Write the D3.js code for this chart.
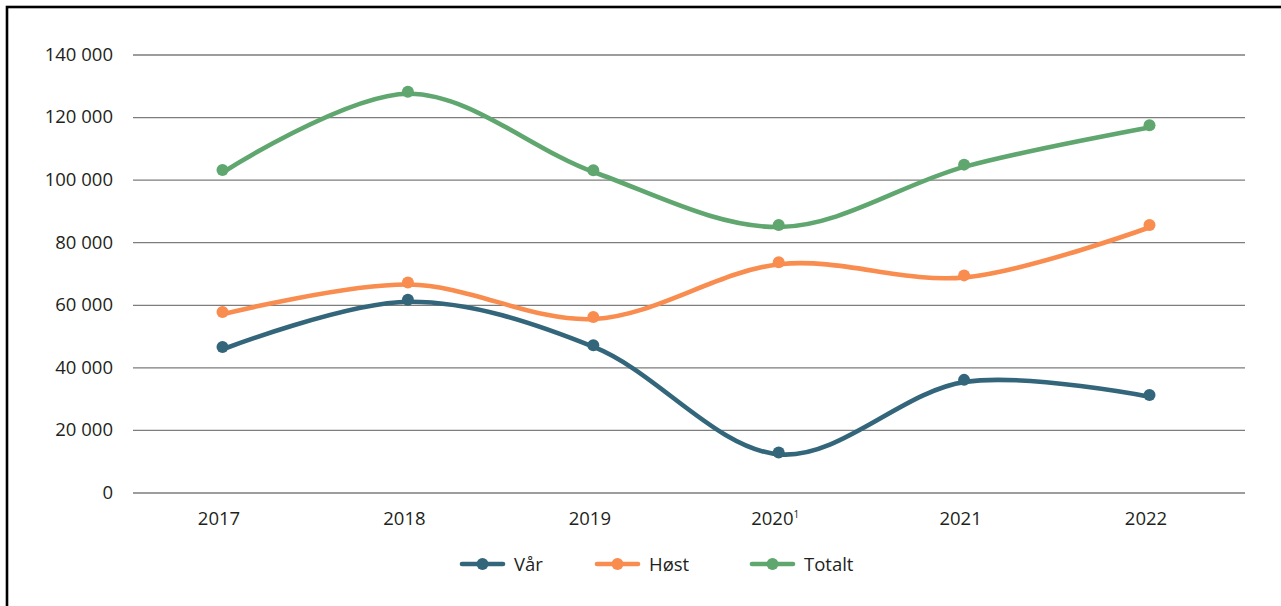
<!DOCTYPE html>
<html>
<head>
<meta charset="utf-8">
<script src="https://cdn.jsdelivr.net/npm/d3@7"></script>
<style>
  html, body { margin: 0; padding: 0; background: #fff; }
  svg { display: block; }
  text { font-family: "Open Sans", sans-serif; fill: #231f20; }
</style>
</head>
<body>
<script>
// ---- data ----
const years = ["2017", "2018", "2019", "2020", "2021", "2022"];
const yearNotes = ["", "", "", "1", "", ""];
const seriesNames = ["Vår", "Høst", "Totalt"];
const varValues = [46500, 61600, 47100, 12800, 36000, 31200];
const hostValues = [57700, 67100, 56100, 73600, 69400, 85500];
const totaltValues = [103100, 128100, 103000, 85500, 104800, 117400];
const yTicks = [0, 20000, 40000, 60000, 80000, 100000, 120000, 140000];
const seriesColors = ["#33667b", "#f98c4f", "#5fa66f"];

const W = 1281, H = 606;
const plot = { left: 133, right: 1245, top: 54.5, bottom: 492.5 };
const FS = 18.5;

const svg = d3.select("body").append("svg").attr("width", W).attr("height", H);

// frame
svg.append("rect")
  .attr("x", 7).attr("y", 7).attr("width", 1400).attr("height", 700)
  .attr("fill", "none").attr("stroke", "#000").attr("stroke-width", 2.6);

const x = d3.scalePoint().domain(years).range([222.5, 1149.5]);
const y = d3.scaleLinear().domain([0, 140000]).range([plot.bottom, plot.top]);

const fmt = d3.formatLocale({ decimal: ",", thousands: "\u00a0", grouping: [3], currency: ["", " kr"] }).format(",d");

// y axis with gridlines
const yAxis = svg.append("g")
  .attr("transform", `translate(${plot.left},0)`)
  .call(d3.axisLeft(y).tickValues(yTicks).tickFormat(fmt)
    .tickSize(-(plot.right - plot.left)).tickPadding(20));
yAxis.select(".domain").remove();
yAxis.selectAll(".tick line").attr("stroke", "#7d7d7d").attr("stroke-width", 1.3);
yAxis.selectAll(".tick text").attr("font-size", FS).attr("fill", "#231f20")
  .attr("font-family", "'Open Sans', sans-serif");

// x axis labels
const xAxis = svg.append("g")
  .attr("transform", `translate(-4,${plot.bottom})`)
  .call(d3.axisBottom(x).tickSize(0).tickPadding(19.5));
xAxis.select(".domain").remove();
xAxis.selectAll(".tick text")
  .attr("font-size", FS).attr("fill", "#231f20")
  .attr("font-family", "'Open Sans', sans-serif")
  .each(function (d, i) {
    const note = yearNotes[i];
    if (note) {
      d3.select(this).append("tspan")
        .attr("font-size", 10).attr("dy", "-0.75em").text(note);
    }
  });

// series
const series = [varValues, hostValues, totaltValues];
const line = d3.line()
  .x((d, i) => x(years[i]))
  .y(d => y(d))
  .curve(d3.curveCatmullRom.alpha(0.5));

const g = svg.append("g");
series.forEach((vals, s) => {
  g.append("path")
    .attr("d", line(vals))
    .attr("transform", "translate(1,2)")
    .attr("fill", "none")
    .attr("stroke", seriesColors[s])
    .attr("stroke-width", 4.6)
    .attr("stroke-linecap", "round");
  g.selectAll(null).data(vals).enter().append("circle")
    .attr("cx", (d, i) => x(years[i]))
    .attr("cy", d => y(d))
    .attr("r", 6)
    .attr("fill", seriesColors[s]);
});

// legend
const legendX = [462, 597, 752];
const legend = svg.append("g").attr("transform", "translate(0,564)");
seriesNames.forEach((name, s) => {
  const lg = legend.append("g").attr("transform", `translate(${legendX[s]},0)`);
  lg.append("line").attr("x1", 0).attr("x2", 41).attr("y1", 0).attr("y2", 0)
    .attr("stroke", seriesColors[s]).attr("stroke-width", 4.6).attr("stroke-linecap", "round");
  lg.append("circle").attr("cx", 20.5).attr("cy", 0).attr("r", 6).attr("fill", seriesColors[s]);
  lg.append("text").attr("x", 52).attr("y", 0).attr("dy", "0.36em")
    .attr("font-size", FS).text(name);
});
</script>
</body>
</html>
